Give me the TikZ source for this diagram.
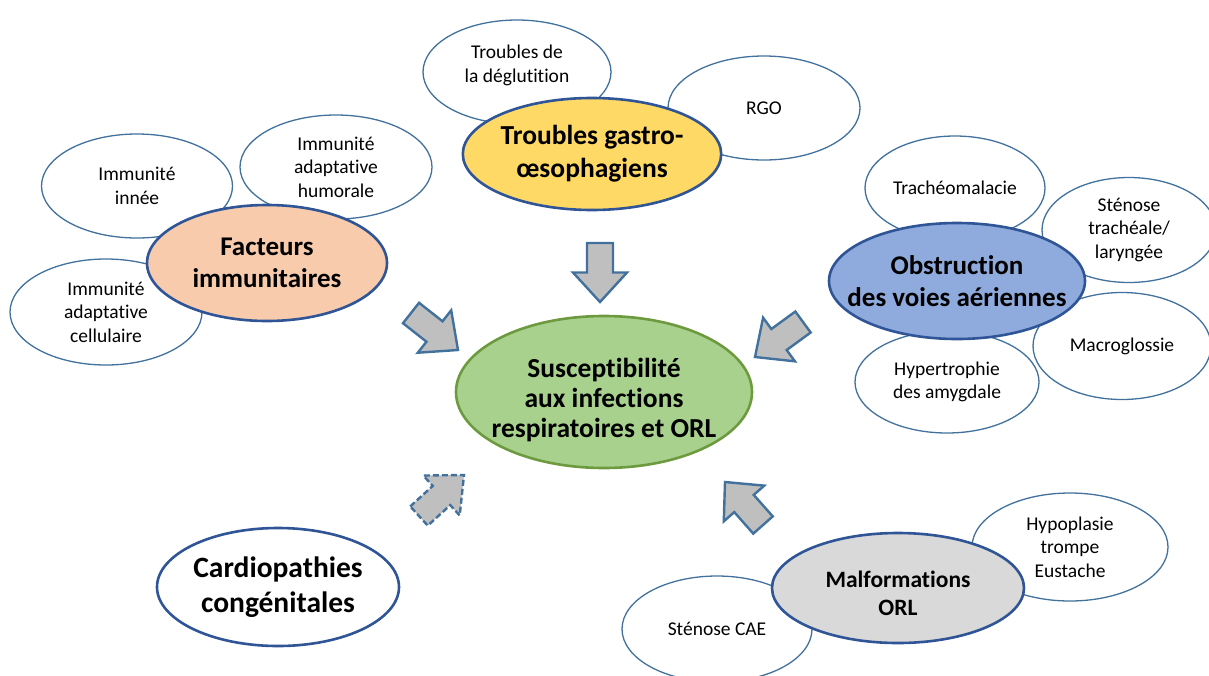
\documentclass[tikz,border=0pt]{standalone}
\usepackage{fontspec}
\setmainfont{Carlito}[Ligatures=NoCommon]
\usetikzlibrary{shapes.geometric,calc}
\definecolor{lineblue}{HTML}{41719C}
\definecolor{darkblue}{HTML}{2F5597}
\definecolor{peach}{HTML}{F8CBAD}
\definecolor{gold}{HTML}{FFD966}
\definecolor{skyblue}{HTML}{8FAADC}
\definecolor{leaf}{HTML}{A9D18E}
\definecolor{leafline}{HTML}{6E9A3F}
\definecolor{lightgray}{HTML}{D9D9D9}
\definecolor{arrowgray}{HTML}{BFBFBF}
\tikzset{
  smallell/.style={ellipse, draw=lineblue, line width=1.3pt, fill=white, inner sep=0pt, align=center,
    font=\fontsize{19.5}{23.5}\selectfont},
  mainell/.style={ellipse, draw=darkblue, line width=2.6pt, inner sep=0pt, align=center,
    font=\fontsize{27}{32}\selectfont\bfseries},
  blockarr/.style={draw=lineblue, line width=2.4pt, fill=arrowgray, line join=miter},
}
\newcommand{\blockarrow}[3][]{%
  \draw[blockarr,#1]
    ($(#2)!13pt!90:(#3)$) -- ($($(#2)!0.5!(#3)$)!13pt!90:(#3)$) -- ($($(#2)!0.5!(#3)$)!27pt!90:(#3)$) -- (#3)
    -- ($($(#2)!0.5!(#3)$)!27pt!-90:(#3)$) -- ($($(#2)!0.5!(#3)$)!13pt!-90:(#3)$) -- ($(#2)!13pt!-90:(#3)$) -- cycle;}
\begin{document}
\begin{tikzpicture}[x=1pt,y=-1pt]
\useasboundingbox (0,0) rectangle (1209,675);
\clip (0,0) rectangle (1209,675);
% small ellipses
\node[smallell, minimum width=188pt, minimum height=104pt] (deg) at (517,72) {Troubles de\\la déglutition\rule[-17pt]{0pt}{1pt}};
\node[smallell, minimum width=192pt, minimum height=104pt] (rgo) at (764,108) {RGO};
\node[smallell, minimum width=191pt, minimum height=104pt] (inn) at (137,186) {Immunité\\innée};
\node[smallell, minimum width=192pt, minimum height=104pt] (hum) at (336,167) {Immunité\\adaptative\\humorale};
\node[smallell, minimum width=192pt, minimum height=106pt] (cel) at (106,312) {Immunité\\adaptative\\cellulaire};
\node[smallell, minimum width=180pt, minimum height=104pt] (tra) at (955,188) {Trachéomalacie};
\node[smallell, minimum width=174pt, minimum height=105pt] (ste) at (1129,230) {Sténose\\trachéale/\\laryngée};
\node[smallell, minimum width=178pt, minimum height=107pt] (mac) at (1122,346) {Macroglossie};
\node[smallell, minimum width=184pt, minimum height=102pt] (hyp) at (947,382) {Hypertrophie\\des amygdale};
\node[smallell, minimum width=196pt, minimum height=108pt] (eus) at (1070,547) {Hypoplasie\\trompe\\Eustache};
\node[smallell, minimum width=190pt, minimum height=106pt] (cae) at (717,629) {Sténose CAE};
% main ellipses
\node[mainell, fill=gold, minimum width=238pt, minimum height=112pt, font=\fontsize{27.5}{33}\selectfont\bfseries] (gas) at (592,154) {Troubles gastro-\\œsophagiens};
\node[mainell, fill=peach, minimum width=240pt, minimum height=116pt] (imm) at (267,263) {Facteurs\\immunitaires};
\node[mainell, fill=skyblue, minimum width=256pt, minimum height=116pt, inner xsep=-25pt] (obs) at (957,281) {Obstruction\\des voies aériennes};
\node[mainell, fill=lightgray, minimum width=252pt, minimum height=110pt, font=\fontsize{23.5}{28}\selectfont\bfseries] (orl) at (898,588) {\rule{0pt}{28pt}Malformations\\ORL};
\node[mainell, fill=white, minimum width=242pt, minimum height=118pt, font=\fontsize{29.5}{35}\selectfont\bfseries] (car) at (278,587) {Cardiopathies\\congénitales};
\node[mainell, draw=leafline, fill=leaf, minimum width=296pt, minimum height=152pt, inner xsep=-25pt, font=\fontsize{27.5}{30}\selectfont\bfseries] (sus) at (604,392) {\rule{0pt}{36pt}Susceptibilité\\aux infections\\respiratoires et ORL};
% block arrows
\coordinate (aT1) at (600,243); \coordinate (aP1) at (600,302);
\coordinate (aT2) at (411,313); \coordinate (aP2) at (458,350);
\coordinate (aT3) at (803,322); \coordinate (aP3) at (755,357);
\coordinate (aT4) at (763,525); \coordinate (aP4) at (725,482);
\coordinate (aT5) at (419,516); \coordinate (aP5) at (464,475);
\blockarrow{aT1}{aP1}
\blockarrow{aT2}{aP2}
\blockarrow{aT3}{aP3}
\blockarrow{aT4}{aP4}
\blockarrow[dashed, dash pattern=on 6pt off 3pt]{aT5}{aP5}
\end{tikzpicture}
\end{document}
